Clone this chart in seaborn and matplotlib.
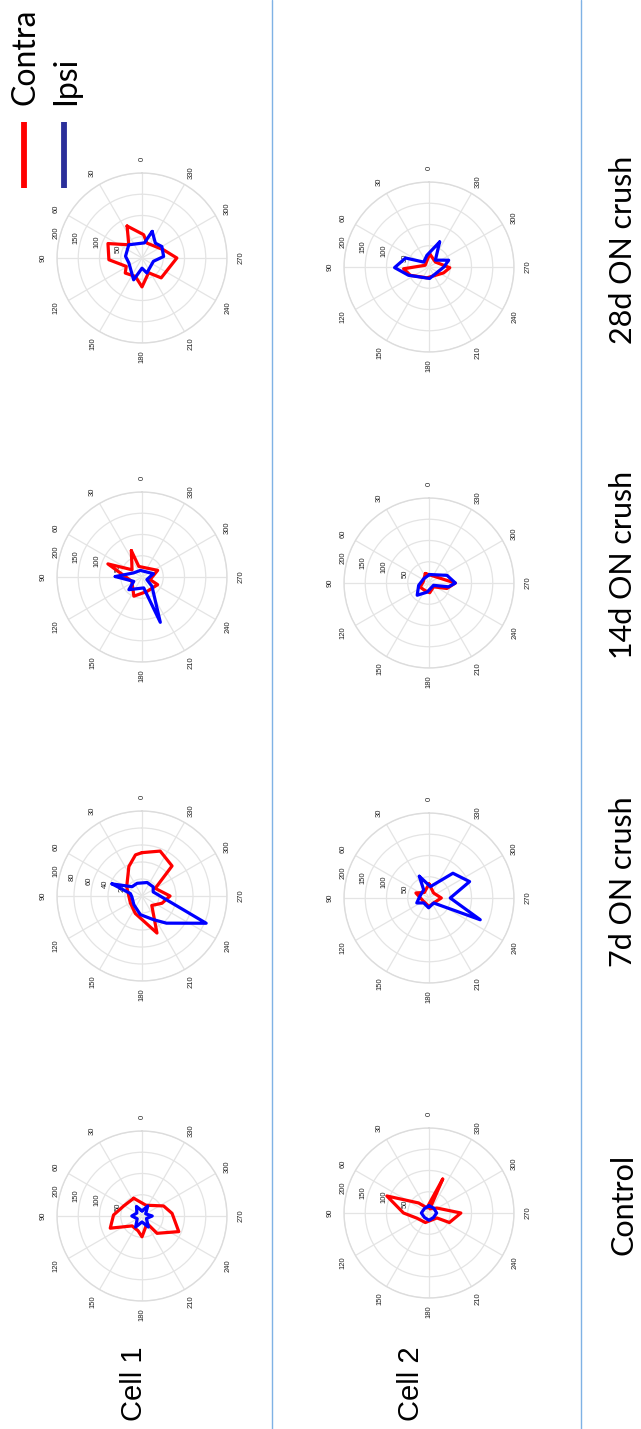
import numpy as np
import pandas as pd
import matplotlib
matplotlib.use("Agg")
import matplotlib.pyplot as plt
from matplotlib.lines import Line2D
import seaborn as sns

# ---------------------------------------------------------------------------
# Tuning curves: response per stimulus direction (degrees), contra vs ipsi eye
# ---------------------------------------------------------------------------
conditions = ["Control", "7d ON crush", "14d ON crush", "28d ON crush"]
cells = ["Cell 1", "Cell 2"]
angle_ticks = list(range(0, 360, 30))

# Control
ctrl_c1_contra_deg = [25, 340, 295, 275, 247, 221, 214, 180, 165, 135, 111, 88, 61]
ctrl_c1_contra_val = [46, 27, 56, 71, 94, 54, 21, 49, 36, 33, 80, 67, 49]
ctrl_c1_ipsi_deg = [0, 30, 60, 90, 120, 150, 180, 210, 240, 270, 300, 330]
ctrl_c1_ipsi_val = [12, 26, 14, 24, 13, 30, 14, 30, 12, 24, 10, 27]

ctrl_c2_contra_deg = [338, 349, 302, 270, 245, 238, 159, 113, 90, 68, 46, 22]
ctrl_c2_contra_val = [86, 10, 22, 75, 53, 22, 24, 31, 60, 107, 34, 13]
ctrl_c2_ipsi_deg = [0, 45, 90, 135, 180, 225, 270, 315]
ctrl_c2_ipsi_val = [17, 15, 18, 15, 17, 15, 18, 16]

# 7 days after optic nerve crush
d7_c1_contra_deg = [0, 338, 315, 300, 270, 250, 226, 202, 159, 122, 59, 24, 9]
d7_c1_contra_val = [51, 57, 50, 18, 33, 25, 16, 47, 22, 16, 21, 38, 49]
d7_c1_ipsi_deg = [68, 47, 21, 339, 309, 290, 247, 222, 206, 175, 137, 94, 78]
d7_c1_ipsi_val = [38, 16, 16, 17, 17, 14, 82, 43, 31, 22, 14, 12, 14]

d7_c2_contra_deg = [0, 317, 270, 223, 180, 122, 69, 40]
d7_c2_contra_val = [33, 16, 29, 16, 20, 15, 33, 17]
d7_c2_ipsi_deg = [24, 353, 316, 292, 270, 247, 223, 178, 133, 112, 80, 33]
d7_c2_ipsi_val = [56, 27, 81, 103, 50, 131, 16, 23, 17, 31, 22, 23]

# 14 days after optic nerve crush
d14_c1_contra_deg = [22, 17, 293, 252, 244, 199, 157, 113, 69, 54]
d14_c1_contra_val = [67, 26, 40, 20, 41, 36, 49, 26, 86, 29]
d14_c1_ipsi_deg = [89, 64, 14, 286, 242, 227, 202, 189, 134, 118]
d14_c1_ipsi_val = [63, 22, 16, 28, 13, 32, 115, 26, 43, 22]

d14_c2_contra_deg = [21, 278, 270, 253, 230, 184, 148, 115, 81]
d14_c2_contra_val = [24, 43, 62, 44, 14, 23, 20, 23, 14]
d14_c2_ipsi_deg = [356, 293, 270, 259, 243, 168, 136, 103, 51]
d14_c2_ipsi_val = [20, 46, 62, 47, 12, 22, 40, 25, 16]

# 28 days after optic nerve crush
d28_c1_contra_deg = [25, 356, 342, 291, 270, 224, 204, 180, 160, 132, 118, 93, 67, 45]
d28_c1_contra_val = [83, 55, 37, 54, 82, 65, 38, 68, 46, 53, 42, 78, 87, 44]
d28_c1_ipsi_deg = [339, 351, 45, 84, 111, 159, 180, 198, 254, 274, 300, 318]
d28_c1_ipsi_val = [67, 36, 44, 39, 33, 55, 24, 37, 28, 51, 54, 47]

d28_c2_contra_deg = [357, 308, 268, 248, 169, 114, 94, 66]
d28_c2_contra_val = [31, 19, 49, 37, 26, 48, 60, 10]
d28_c2_ipsi_deg = [337, 317, 289, 270, 183, 112, 91, 69, 47, 10]
d28_c2_ipsi_val = [64, 22, 49, 35, 27, 52, 81, 59, 17, 28]

# radial scale of each panel (outer ring and ring values)
rmax_c1 = [200, 100, 200, 200]
rmax_c2 = [200, 200, 200, 200]
rticks_200 = [50, 100, 150, 200]
rticks_100 = [20, 40, 60, 80, 100]

traces = {
    ("Cell 1", "Control"): (ctrl_c1_contra_deg, ctrl_c1_contra_val, ctrl_c1_ipsi_deg, ctrl_c1_ipsi_val),
    ("Cell 2", "Control"): (ctrl_c2_contra_deg, ctrl_c2_contra_val, ctrl_c2_ipsi_deg, ctrl_c2_ipsi_val),
    ("Cell 1", "7d ON crush"): (d7_c1_contra_deg, d7_c1_contra_val, d7_c1_ipsi_deg, d7_c1_ipsi_val),
    ("Cell 2", "7d ON crush"): (d7_c2_contra_deg, d7_c2_contra_val, d7_c2_ipsi_deg, d7_c2_ipsi_val),
    ("Cell 1", "14d ON crush"): (d14_c1_contra_deg, d14_c1_contra_val, d14_c1_ipsi_deg, d14_c1_ipsi_val),
    ("Cell 2", "14d ON crush"): (d14_c2_contra_deg, d14_c2_contra_val, d14_c2_ipsi_deg, d14_c2_ipsi_val),
    ("Cell 1", "28d ON crush"): (d28_c1_contra_deg, d28_c1_contra_val, d28_c1_ipsi_deg, d28_c1_ipsi_val),
    ("Cell 2", "28d ON crush"): (d28_c2_contra_deg, d28_c2_contra_val, d28_c2_ipsi_deg, d28_c2_ipsi_val),
}

CONTRA = "#ff0000"
IPSI = "#0000ff"
GRID = "#e4e4e4"

sns.set_theme(style="white")
plt.rcParams["font.family"] = ["Liberation Sans", "DejaVu Sans"]
plt.rcParams["text.color"] = "black"

W, H = 641, 1429
fig = plt.figure(figsize=(W / 100, H / 100), dpi=100)
fig.patch.set_facecolor("white")

# panel centres in pixels (x from left, y from top); radius of the outer ring
centres = {
    ("Cell 1", "Control"): (142, 1216), ("Cell 2", "Control"): (429, 1213),
    ("Cell 1", "7d ON crush"): (142, 896), ("Cell 2", "7d ON crush"): (429, 898),
    ("Cell 1", "14d ON crush"): (142, 577), ("Cell 2", "14d ON crush"): (429, 583),
    ("Cell 1", "28d ON crush"): (142, 258), ("Cell 2", "28d ON crush"): (429, 267),
}
R = 85


def closed_frame(deg, val, side):
    d = list(deg) + [deg[0]]
    v = list(val) + [val[0]]
    return pd.DataFrame({"theta": np.deg2rad(d), "r": v, "side": side})


for cell in cells:
    for k, cond in enumerate(conditions):
        cx, cy = centres[(cell, cond)]
        rect = [(cx - R) / W, 1 - (cy + R) / H, 2 * R / W, 2 * R / H]
        ax = fig.add_axes(rect, projection="polar")
        ax.set_facecolor("white")
        ax.set_theta_zero_location("N")
        ax.set_theta_direction(1)

        cdeg, cval, ideg, ival = traces[(cell, cond)]
        df = pd.concat([closed_frame(cdeg, cval, "Contra"),
                        closed_frame(ideg, ival, "Ipsi")], ignore_index=True)
        sns.lineplot(data=df, x="theta", y="r", hue="side",
                     palette={"Contra": CONTRA, "Ipsi": IPSI},
                     sort=False, estimator=None, legend=False,
                     linewidth=2.3, ax=ax, zorder=3)

        rmax = rmax_c1[k] if cell == "Cell 1" else rmax_c2[k]
        rt = rticks_100 if rmax == 100 else rticks_200
        ax.set_thetalim(0, 2 * np.pi)
        ax.set_ylim(0, rmax)
        ax.set_yticks(rt)
        ax.set_yticklabels([str(t) for t in rt])
        ax.set_xticks(np.deg2rad(angle_ticks))
        ax.set_xticklabels([str(a) for a in angle_ticks])
        ax.set_rlabel_position(77)
        ax.tick_params(axis="x", labelrotation=90, labelsize=5.5,
                       colors="#222222", pad=-3)
        ax.tick_params(axis="y", labelrotation=90, labelsize=5.5,
                       colors="#222222")
        ax.grid(True, color=GRID, linewidth=0.9)
        ax.spines["polar"].set_color("#dcdcdc")
        ax.spines["polar"].set_linewidth(1.0)
        ax.set_xlabel("")
        ax.set_ylabel("")

# separators between the rows of cells
for xp in (272, 581):
    fig.add_artist(Line2D([xp / W, xp / W], [0, 1], color="#7fb2e5",
                          linewidth=1.0, transform=fig.transFigure))

# condition labels
cond_y = {"Control": 1204, "7d ON crush": 882, "14d ON crush": 565,
          "28d ON crush": 250}
for cond in conditions:
    fig.text(623 / W, 1 - cond_y[cond] / H, cond, rotation=90,
             ha="center", va="center", fontsize=22, color="black",
             family=["Lato", "DejaVu Sans"])

# cell labels
for cell, xc in (("Cell 1", 134), ("Cell 2", 411)):
    fig.text(xc / W, 1 - 1384 / H, cell, rotation=90, ha="center",
             va="center", fontsize=21, color="black")

# legend
for name, color, xb, xt in (("Contra", CONTRA, 23.5, 34), ("Ipsi", "#2b2f9a", 64, 75)):
    fig.add_artist(Line2D([xb / W, xb / W], [1 - 188 / H, 1 - 122 / H],
                          color=color, linewidth=4.2, solid_capstyle="butt",
                          transform=fig.transFigure))
    fig.text(xt / W, 1 - 105 / H, name, rotation=90, rotation_mode="anchor",
             ha="left", va="baseline", fontsize=23, color="black",
             family=["Lato", "DejaVu Sans"])

fig.savefig("out.png", dpi=100, facecolor="white")
